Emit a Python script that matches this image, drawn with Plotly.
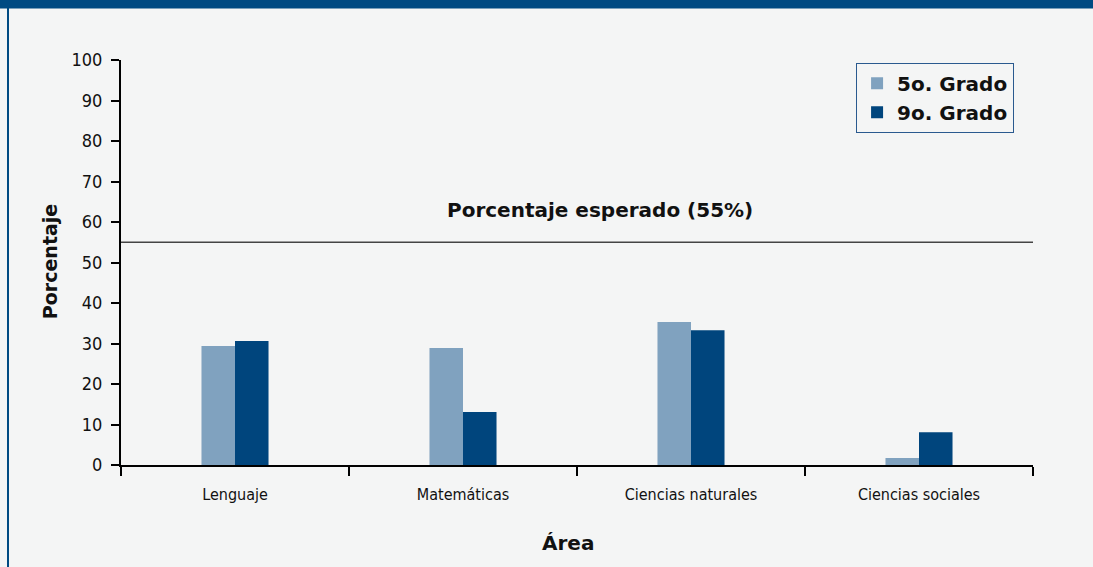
import plotly.graph_objects as go

categories = ["Lenguaje", "Matemáticas", "Ciencias naturales", "Ciencias sociales"]
grado5 = [29.4, 28.9, 35.3, 1.7]
grado9 = [30.6, 13.1, 33.3, 8.1]
series_names = ["5o. Grado", "9o. Grado"]
expected = 55
y_ticks = [0, 10, 20, 30, 40, 50, 60, 70, 80, 90, 100]

C5 = "#80a2bf"
C9 = "#00457d"
BG = "#f4f5f5"
BAND = "#004a82"
BOLD = "'DejaVu Sans', sans-serif"
COND = "'DejaVu Sans Condensed', 'Liberation Sans Narrow', sans-serif"

fig = go.Figure()
fig.add_trace(go.Bar(x=categories, y=grado5, name=series_names[0], marker=dict(color=C5, line_width=0)))
fig.add_trace(go.Bar(x=categories, y=grado9, name=series_names[1], marker=dict(color=C9, line_width=0)))

fig.update_layout(
    width=1093, height=567,
    margin=dict(l=121, r=60, t=60, b=102),
    paper_bgcolor=BG, plot_bgcolor=BG,
    barmode="group", bargap=0.706, bargroupgap=0,
    showlegend=True,
    legend=dict(
        x=0.806, y=0.993, xanchor="left", yanchor="top",
        bgcolor=BG, bordercolor="#2a5a8f", borderwidth=1,
        font=dict(family=BOLD, size=20, color="#111111", weight="bold"),
        itemsizing="constant", tracegroupgap=0,
    ),
    xaxis=dict(
        range=[-0.5, 3.5], showgrid=False, zeroline=False,
        showline=True, linecolor="#000000", linewidth=2,
        ticks="outside", tickson="boundaries", ticklen=9, tickwidth=2, tickcolor="#000000",
        tickfont=dict(family=COND, size=16, color="#111111"),
        ticklabelstandoff=14,
    ),
    yaxis=dict(
        range=[0, 100], tickvals=y_ticks, showgrid=False, zeroline=False,
        showline=True, linecolor="#000000", linewidth=2,
        ticks="outside", ticklen=8, tickwidth=2, tickcolor="#000000",
        tickfont=dict(family=COND, size=18, color="#111111"),
        ticklabelstandoff=5,
    ),
    shapes=[
        dict(type="line", xref="paper", yref="y", x0=0, x1=1, y0=expected, y1=expected,
             line=dict(color="#444444", width=1.5), layer="above"),
        dict(type="rect", xref="paper", yref="paper", x0=-0.2, x1=1.1, y0=1.127, y1=1.2,
             fillcolor=BAND, line_width=0, layer="above"),
        dict(type="line", xref="paper", yref="paper", x0=-0.1239, x1=-0.1239, y0=-0.3, y1=1.14,
             line=dict(color=BAND, width=2), layer="above"),
    ],
    annotations=[
        dict(text="Porcentaje esperado (%d%%)" % expected, xref="paper", yref="y", x=0.525, y=63,
             xanchor="center", yanchor="middle",
             showarrow=False, font=dict(family=BOLD, size=20, color="#111111", weight="bold")),
        dict(text="Porcentaje", xref="paper", yref="paper", x=-0.0778, y=0.501, textangle=-90,
             xanchor="center", yanchor="middle",
             showarrow=False, font=dict(family=BOLD, size=19, color="#111111", weight="bold")),
        dict(text="Área", xref="paper", yref="paper", x=0.490, y=-0.193,
             xanchor="center", yanchor="middle",
             showarrow=False, font=dict(family=BOLD, size=20, color="#111111", weight="bold")),
    ],
)

fig.write_html("out.html", config={"displayModeBar": False},
               post_script="document.body.style.margin='0';")
